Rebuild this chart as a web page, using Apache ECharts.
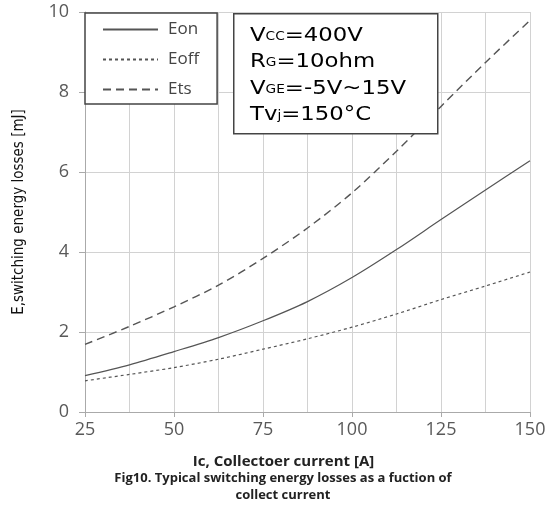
<!DOCTYPE html>
<html>
<head>
<meta charset="utf-8">
<script src="https://cdn.jsdelivr.net/npm/echarts@6/dist/echarts.min.js"></script>
<style>
html,body{margin:0;padding:0;background:#fff;}
#chart{width:552px;height:508px;}
</style>
</head>
<body>
<div id="chart"></div>
<script>
// Collector current [A]
const currents = [25, 37.5, 50, 62.5, 75, 87.5, 100, 112.5, 125, 137.5, 150];
// Switching energies [mJ]
const eon  = [0.91, 1.18, 1.51, 1.86, 2.28, 2.76, 3.36, 4.06, 4.81, 5.55, 6.28];
const eoff = [0.78, 0.94, 1.11, 1.32, 1.57, 1.83, 2.12, 2.45, 2.81, 3.15, 3.50];
const ets  = [1.69, 2.14, 2.63, 3.17, 3.84, 4.60, 5.48, 6.52, 7.64, 8.74, 9.79];
const seriesNames = ['Eon', 'Eoff', 'Ets'];
const xAxisTitle = 'Ic, Collectoer current [A]';
const yAxisTitle = 'E,switching energy losses [mJ]';
const captionLines = ['Fig10. Typical switching energy losses as a fuction of', 'collect current'];

const pair = arr => currents.map((c, i) => [c, arr[i]]);
const lineColor = '#555';
const labelFont = '"Open Sans", "Noto Sans", sans-serif';
const gridColor = '#d2d2d2';

const chart = echarts.init(document.getElementById('chart'), null, {renderer: 'canvas'});
chart.setOption({
  animation: false,
  backgroundColor: '#fff',
  grid: {left: 85, right: 22, top: 12, bottom: 96, containLabel: false},
  legend: {
    show: true,
    orient: 'vertical',
    left: 85, top: 13,
    padding: [8, 18, 6, 17],
    itemGap: 13,
    itemWidth: 55,
    itemHeight: 17,
    borderColor: '#444', borderWidth: 1.5,
    backgroundColor: '#fff',
    itemStyle: {opacity: 0},
    textStyle: {fontSize: 17, color: '#444', fontFamily: labelFont, padding: [0, 0, 0, 5]},
    data: seriesNames
  },
  xAxis: [{
    type: 'value', min: 25, max: 150, interval: 25,
    name: xAxisTitle, nameLocation: 'middle', nameGap: 42,
    nameTextStyle: {fontSize: 15, fontWeight: 'bold', color: '#222', fontFamily: labelFont, padding: [0, 48, 0, 0]},
    axisLine: {show: true, lineStyle: {color: '#aaa', width: 1}},
    axisTick: {show: true, length: 5, lineStyle: {color: '#aaa'}},
    axisLabel: {fontSize: 18, color: '#595959', fontFamily: labelFont, margin: 9},
    splitLine: {show: true, lineStyle: {color: gridColor, width: 1}}
  }, {
    type: 'value', min: 25, max: 150, interval: 12.5, position: 'bottom',
    axisLine: {show: false}, axisTick: {show: false}, axisLabel: {show: false},
    splitLine: {show: true, lineStyle: {color: gridColor, width: 1}}
  }],
  yAxis: {
    type: 'value', min: 0, max: 10, interval: 2,
    name: yAxisTitle, nameLocation: 'middle', nameGap: 58,
    nameTextStyle: {fontSize: 15, fontWeight: 500, color: '#111', fontFamily: '"Liberation Sans Narrow", "DejaVu Sans Condensed", "Roboto", sans-serif'},
    axisLine: {show: true, lineStyle: {color: '#aaa', width: 1}},
    axisTick: {show: true, length: 6, lineStyle: {color: '#aaa'}},
    axisLabel: {fontSize: 18, color: '#595959', fontFamily: labelFont, margin: 16},
    splitLine: {show: true, lineStyle: {color: gridColor, width: 1}}
  },
  series: [
    {name: seriesNames[0], type: 'line', data: pair(eon), smooth: 0.3, symbol: 'none',
     lineStyle: {color: lineColor, width: 1.2, type: 'solid'}, itemStyle: {color: lineColor}},
    {name: seriesNames[1], type: 'line', data: pair(eoff), smooth: 0.3, symbol: 'none',
     lineStyle: {color: lineColor, width: 1.2, type: [3, 3]}, itemStyle: {color: lineColor}},
    {name: seriesNames[2], type: 'line', data: pair(ets), smooth: 0.3, symbol: 'none',
     lineStyle: {color: lineColor, width: 1.4, type: [8, 5]}, itemStyle: {color: lineColor}}
  ],
  graphic: [
    {type: 'rect', left: 233, top: 13, z: 10,
     shape: {width: 204, height: 120},
     style: {fill: '#fff', stroke: '#444', lineWidth: 1.5}},
    {type: 'text', x: 250, y: 19, scaleX: 1.14, z: 11,
     style: {
       text: '{b|V}{s|CC}{b|=400V}\n{b|R}{s|G}{b|=10ohm}\n{b|V}{s|GE}{b|=-5V~15V}\n{b|Tv}{s|j}{b|=150°C}',
       lineHeight: 26.5,
       rich: {
         b: {fontSize: 20, color: '#222', fontFamily: '"DejaVu Sans", sans-serif', lineHeight: 26.5, verticalAlign: 'bottom'},
         s: {fontSize: 12, color: '#222', fontFamily: '"DejaVu Sans", sans-serif', lineHeight: 26.5, verticalAlign: 'bottom', padding: [0, 0, 3, 0]}
       }
     }},
    {type: 'text', x: 283, y: 470, z: 11,
     style: {text: captionLines.join('\n'), textAlign: 'center', fontSize: 13, fontWeight: 'bold',
             lineHeight: 17, fill: '#222', fontFamily: labelFont}}
  ]
});
</script>
</body>
</html>
